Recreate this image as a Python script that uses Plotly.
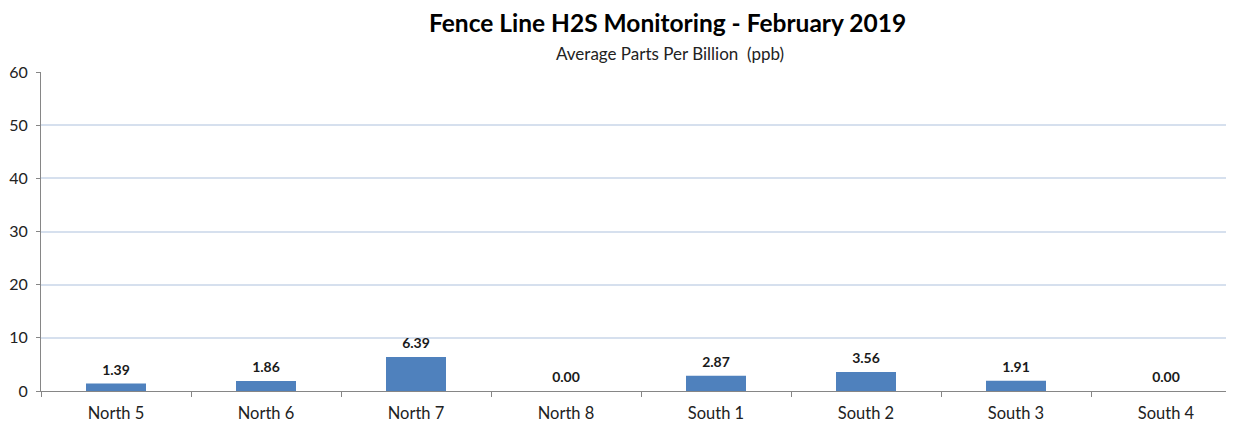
import plotly.graph_objects as go

categories = ["North 5", "North 6", "North 7", "North 8", "South 1", "South 2", "South 3", "South 4"]
values = [1.39, 1.86, 6.39, 0.00, 2.87, 3.56, 1.91, 0.00]
y_ticks = [0, 10, 20, 30, 40, 50, 60]

OFF = 8  # page body margin
W, H = 1234 - OFF, 425 - OFF
L = 41 - OFF
T = 72 - OFF
B = H - (391 - OFF)
R = 0
cat_px = 150.0
plot_w = W - L - R
plot_h = H - T - B


def py(page_y):
    return (H - (page_y - OFF) - B) / plot_h


def px(page_x):
    return (page_x - OFF - L) / plot_w


fig = go.Figure()
fig.add_trace(go.Bar(
    x=categories, y=values, width=0.4,
    marker=dict(color="#4F81BD", line=dict(width=0)),
    hoverinfo="skip",
))
fig.add_trace(go.Scatter(
    x=categories, y=values, mode="markers+text",
    marker=dict(size=7, opacity=0),
    text=[f"{v:.2f}" for v in values], textposition="top center",
    textfont=dict(family="Lato", size=14, color="#1a1a1a", weight="bold"),
    cliponaxis=False,
))

fig.update_layout(
    width=W, height=H,
    margin=dict(l=L, r=R, t=T, b=B),
    plot_bgcolor="white", paper_bgcolor="white",
    showlegend=False, bargap=0.6,
    font=dict(family="Lato", color="#222"),
    xaxis=dict(
        type="category", range=[-0.5, -0.5 + plot_w / cat_px],
        showline=True, linecolor="#868686", linewidth=1,
        ticks="outside", ticklen=5, tickcolor="#868686", tickson="boundaries",
        tickfont=dict(family="Lato", size=16.5, color="#222"),
        ticklabelstandoff=7,
        showgrid=False, zeroline=False,
    ),
    yaxis=dict(
        range=[0, 60], tickvals=y_ticks,
        showline=True, linecolor="#868686", linewidth=1,
        ticks="outside", ticklen=4, tickcolor="#868686",
        tickfont=dict(family="Lato", size=16, color="#222"),
        ticklabelstandoff=5,
        showgrid=True, gridcolor="#D6E0EE", gridwidth=1.5, zeroline=False,
    ),
    annotations=[
        dict(text="<b>Fence Line H2S Monitoring - February 2019</b>", xref="paper", yref="paper",
             x=px(667), y=py(23), xanchor="center", yanchor="middle",
             showarrow=False, font=dict(family="Lato", size=24.5, color="#000")),
        dict(text="Average Parts Per Billion  (ppb)", xref="paper", yref="paper",
             x=px(670), y=py(54), xanchor="center", yanchor="middle",
             showarrow=False, font=dict(family="Lato", size=17, color="#222")),
    ],
)

fig.write_html("out.html")
